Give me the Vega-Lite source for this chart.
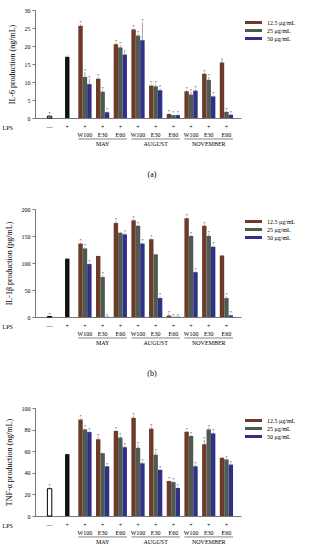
{
  "$schema": "https://vega.github.io/schema/vega-lite/v6.json",
  "padding": {"left": 2, "top": 7, "right": 0, "bottom": 0},
  "background": "white",
  "config": {
    "font": "Liberation Serif",
    "view": {"stroke": null},
    "axis": {"labelFont": "Liberation Serif", "titleFont": "Liberation Serif", "labelFontSize": 6, "titleFontSize": 8, "titleFontWeight": "normal", "domainColor": "#777", "domainWidth": 1, "tickColor": "#777", "grid": false, "labelColor": "#000", "titleColor": "#000"},
    "axisX": {"title": "LPS", "titleX": -33, "titleY": 9, "titleAlign": "left", "titleBaseline": "middle", "titleFontSize": 6, "labelAngle": 0, "ticks": false, "tickSize": 0, "labelPadding": 5, "labelBaseline": "top", "labelLineHeight": 8.5, "labelOverlap": false, "domain": true,
      "labelExpr": "datum.value === 'ctrl' ? '—' : datum.value === 'LPS' ? '+' : (split(datum.value, ' ')[1] === 'E30' ? ['+', 'E30', split(datum.value, ' ')[0]] : ['+', split(datum.value, ' ')[1]])"},
    "axisY": {"tickSize": 3, "labelPadding": 2, "titlePadding": 8, "labelOverlap": false},
    "legend": {"orient": "none", "legendX": 214, "legendY": 8, "symbolType": "M-2,-0.36L2,-0.36L2,0.36L-2,0.36Z", "symbolSize": 72, "symbolStrokeWidth": 0, "labelFont": "Liberation Serif", "labelFontSize": 6, "labelColor": "#000", "rowPadding": -2, "labelOffset": 9, "title": null},
    "title": {"font": "Liberation Serif", "fontSize": 8, "fontWeight": "normal", "color": "#000"}
  },
  "datasets": {
    "bars": [
      {"panel": "a", "group": "ctrl", "off": "25", "series": "ctrl", "value": 0.5, "hi": 0.8, "star": "*"},
      {"panel": "a", "group": "LPS", "off": "25", "series": "LPS", "value": 17.0, "hi": 17.4, "star": ""},
      {"panel": "a", "group": "MAY W100", "off": "12.5", "series": "12.5 μg/mL", "value": 25.6, "hi": 26.0, "star": "*"},
      {"panel": "a", "group": "MAY W100", "off": "25", "series": "25 μg/mL", "value": 11.4, "hi": 12.7, "star": "*"},
      {"panel": "a", "group": "MAY W100", "off": "50", "series": "50 μg/mL", "value": 9.4, "hi": 10.9, "star": "*"},
      {"panel": "a", "group": "MAY E30", "off": "12.5", "series": "12.5 μg/mL", "value": 10.9, "hi": 11.3, "star": "*"},
      {"panel": "a", "group": "MAY E30", "off": "25", "series": "25 μg/mL", "value": 7.3, "hi": 7.8, "star": "*"},
      {"panel": "a", "group": "MAY E30", "off": "50", "series": "50 μg/mL", "value": 1.6, "hi": 1.9, "star": "*"},
      {"panel": "a", "group": "MAY E60", "off": "12.5", "series": "12.5 μg/mL", "value": 20.5, "hi": 20.9, "star": "*"},
      {"panel": "a", "group": "MAY E60", "off": "25", "series": "25 μg/mL", "value": 19.6, "hi": 20.2, "star": "*"},
      {"panel": "a", "group": "MAY E60", "off": "50", "series": "50 μg/mL", "value": 17.6, "hi": 19.1, "star": ""},
      {"panel": "a", "group": "AUGUST W100", "off": "12.5", "series": "12.5 μg/mL", "value": 24.6, "hi": 24.9, "star": "*"},
      {"panel": "a", "group": "AUGUST W100", "off": "25", "series": "25 μg/mL", "value": 22.9, "hi": 23.4, "star": "*"},
      {"panel": "a", "group": "AUGUST W100", "off": "50", "series": "50 μg/mL", "value": 21.6, "hi": 26.6, "star": "*"},
      {"panel": "a", "group": "AUGUST E30", "off": "12.5", "series": "12.5 μg/mL", "value": 9.0, "hi": 9.4, "star": "*"},
      {"panel": "a", "group": "AUGUST E30", "off": "25", "series": "25 μg/mL", "value": 8.8, "hi": 9.4, "star": "*"},
      {"panel": "a", "group": "AUGUST E30", "off": "50", "series": "50 μg/mL", "value": 7.7, "hi": 8.2, "star": "*"},
      {"panel": "a", "group": "AUGUST E60", "off": "12.5", "series": "12.5 μg/mL", "value": 1.1, "hi": 1.3, "star": "*"},
      {"panel": "a", "group": "AUGUST E60", "off": "25", "series": "25 μg/mL", "value": 0.8, "hi": 1.0, "star": "*"},
      {"panel": "a", "group": "AUGUST E60", "off": "50", "series": "50 μg/mL", "value": 0.8, "hi": 1.0, "star": "*"},
      {"panel": "a", "group": "NOVEMBER W100", "off": "12.5", "series": "12.5 μg/mL", "value": 7.4, "hi": 7.8, "star": "*"},
      {"panel": "a", "group": "NOVEMBER W100", "off": "25", "series": "25 μg/mL", "value": 6.5, "hi": 7.3, "star": "*"},
      {"panel": "a", "group": "NOVEMBER W100", "off": "50", "series": "50 μg/mL", "value": 7.6, "hi": 8.0, "star": "*"},
      {"panel": "a", "group": "NOVEMBER E30", "off": "12.5", "series": "12.5 μg/mL", "value": 12.3, "hi": 12.6, "star": "*"},
      {"panel": "a", "group": "NOVEMBER E30", "off": "25", "series": "25 μg/mL", "value": 10.6, "hi": 11.4, "star": "*"},
      {"panel": "a", "group": "NOVEMBER E30", "off": "50", "series": "50 μg/mL", "value": 6.0, "hi": 6.3, "star": "*"},
      {"panel": "a", "group": "NOVEMBER E60", "off": "12.5", "series": "12.5 μg/mL", "value": 15.4, "hi": 16.7, "star": ""},
      {"panel": "a", "group": "NOVEMBER E60", "off": "25", "series": "25 μg/mL", "value": 1.7, "hi": 2.0, "star": "*"},
      {"panel": "a", "group": "NOVEMBER E60", "off": "50", "series": "50 μg/mL", "value": 0.9, "hi": 1.2, "star": "*"},

      {"panel": "b", "group": "ctrl", "off": "25", "series": "ctrl", "value": 1, "hi": 1, "star": "*"},
      {"panel": "b", "group": "LPS", "off": "25", "series": "LPS", "value": 108, "hi": 109.5, "star": ""},
      {"panel": "b", "group": "MAY W100", "off": "12.5", "series": "12.5 μg/mL", "value": 136, "hi": 138, "star": "*"},
      {"panel": "b", "group": "MAY W100", "off": "25", "series": "25 μg/mL", "value": 127, "hi": 129, "star": "*"},
      {"panel": "b", "group": "MAY W100", "off": "50", "series": "50 μg/mL", "value": 98, "hi": 100, "star": "*"},
      {"panel": "b", "group": "MAY E30", "off": "12.5", "series": "12.5 μg/mL", "value": 113, "hi": 114, "star": ""},
      {"panel": "b", "group": "MAY E30", "off": "25", "series": "25 μg/mL", "value": 74, "hi": 77, "star": "*"},
      {"panel": "b", "group": "MAY E30", "off": "50", "series": "50 μg/mL", "value": 0.5, "hi": 0.5, "star": "*"},
      {"panel": "b", "group": "MAY E60", "off": "12.5", "series": "12.5 μg/mL", "value": 174, "hi": 178, "star": "*"},
      {"panel": "b", "group": "MAY E60", "off": "25", "series": "25 μg/mL", "value": 156, "hi": 158, "star": ""},
      {"panel": "b", "group": "MAY E60", "off": "50", "series": "50 μg/mL", "value": 153, "hi": 156, "star": "*"},
      {"panel": "b", "group": "AUGUST W100", "off": "12.5", "series": "12.5 μg/mL", "value": 179, "hi": 182, "star": "*"},
      {"panel": "b", "group": "AUGUST W100", "off": "25", "series": "25 μg/mL", "value": 169, "hi": 171, "star": "*"},
      {"panel": "b", "group": "AUGUST W100", "off": "50", "series": "50 μg/mL", "value": 136, "hi": 138, "star": "*"},
      {"panel": "b", "group": "AUGUST E30", "off": "12.5", "series": "12.5 μg/mL", "value": 144, "hi": 146, "star": "*"},
      {"panel": "b", "group": "AUGUST E30", "off": "25", "series": "25 μg/mL", "value": 116, "hi": 117, "star": ""},
      {"panel": "b", "group": "AUGUST E30", "off": "50", "series": "50 μg/mL", "value": 35, "hi": 38, "star": "*"},
      {"panel": "b", "group": "AUGUST E60", "off": "12.5", "series": "12.5 μg/mL", "value": 3, "hi": 6, "star": "*"},
      {"panel": "b", "group": "AUGUST E60", "off": "25", "series": "25 μg/mL", "value": 0.5, "hi": 0.5, "star": "*"},
      {"panel": "b", "group": "AUGUST E60", "off": "50", "series": "50 μg/mL", "value": 0.5, "hi": 0.5, "star": "*"},
      {"panel": "b", "group": "NOVEMBER W100", "off": "12.5", "series": "12.5 μg/mL", "value": 183, "hi": 185, "star": "*"},
      {"panel": "b", "group": "NOVEMBER W100", "off": "25", "series": "25 μg/mL", "value": 150, "hi": 152, "star": "*"},
      {"panel": "b", "group": "NOVEMBER W100", "off": "50", "series": "50 μg/mL", "value": 83, "hi": 85, "star": "*"},
      {"panel": "b", "group": "NOVEMBER E30", "off": "12.5", "series": "12.5 μg/mL", "value": 169, "hi": 171, "star": "*"},
      {"panel": "b", "group": "NOVEMBER E30", "off": "25", "series": "25 μg/mL", "value": 150, "hi": 154, "star": "*"},
      {"panel": "b", "group": "NOVEMBER E30", "off": "50", "series": "50 μg/mL", "value": 130, "hi": 133, "star": "*"},
      {"panel": "b", "group": "NOVEMBER E60", "off": "12.5", "series": "12.5 μg/mL", "value": 114, "hi": 115, "star": ""},
      {"panel": "b", "group": "NOVEMBER E60", "off": "25", "series": "25 μg/mL", "value": 35, "hi": 38, "star": "*"},
      {"panel": "b", "group": "NOVEMBER E60", "off": "50", "series": "50 μg/mL", "value": 3, "hi": 5, "star": "*"},

      {"panel": "c", "group": "ctrl", "off": "25", "series": "ctrl", "value": 25.3, "hi": 26.8, "star": "*"},
      {"panel": "c", "group": "LPS", "off": "25", "series": "LPS", "value": 57.3, "hi": 57.8, "star": ""},
      {"panel": "c", "group": "MAY W100", "off": "12.5", "series": "12.5 μg/mL", "value": 89.3, "hi": 90.5, "star": "*"},
      {"panel": "c", "group": "MAY W100", "off": "25", "series": "25 μg/mL", "value": 80.2, "hi": 81.2, "star": "*"},
      {"panel": "c", "group": "MAY W100", "off": "50", "series": "50 μg/mL", "value": 77.7, "hi": 78.7, "star": "*"},
      {"panel": "c", "group": "MAY E30", "off": "12.5", "series": "12.5 μg/mL", "value": 71.0, "hi": 73.5, "star": "*"},
      {"panel": "c", "group": "MAY E30", "off": "25", "series": "25 μg/mL", "value": 58.2, "hi": 58.7, "star": ""},
      {"panel": "c", "group": "MAY E30", "off": "50", "series": "50 μg/mL", "value": 46.0, "hi": 46.7, "star": "*"},
      {"panel": "c", "group": "MAY E60", "off": "12.5", "series": "12.5 μg/mL", "value": 78.7, "hi": 79.7, "star": "*"},
      {"panel": "c", "group": "MAY E60", "off": "25", "series": "25 μg/mL", "value": 72.6, "hi": 74.1, "star": "*"},
      {"panel": "c", "group": "MAY E60", "off": "50", "series": "50 μg/mL", "value": 63.7, "hi": 65.2, "star": "*"},
      {"panel": "c", "group": "AUGUST W100", "off": "12.5", "series": "12.5 μg/mL", "value": 90.9, "hi": 92.9, "star": "*"},
      {"panel": "c", "group": "AUGUST W100", "off": "25", "series": "25 μg/mL", "value": 63.1, "hi": 66.1, "star": "*"},
      {"panel": "c", "group": "AUGUST W100", "off": "50", "series": "50 μg/mL", "value": 48.8, "hi": 50.3, "star": "*"},
      {"panel": "c", "group": "AUGUST E30", "off": "12.5", "series": "12.5 μg/mL", "value": 80.8, "hi": 82.8, "star": "*"},
      {"panel": "c", "group": "AUGUST E30", "off": "25", "series": "25 μg/mL", "value": 56.7, "hi": 59.2, "star": "*"},
      {"panel": "c", "group": "AUGUST E30", "off": "50", "series": "50 μg/mL", "value": 42.7, "hi": 43.7, "star": "*"},
      {"panel": "c", "group": "AUGUST E60", "off": "12.5", "series": "12.5 μg/mL", "value": 32.3, "hi": 32.9, "star": "*"},
      {"panel": "c", "group": "AUGUST E60", "off": "25", "series": "25 μg/mL", "value": 31.4, "hi": 32.2, "star": "*"},
      {"panel": "c", "group": "AUGUST E60", "off": "50", "series": "50 μg/mL", "value": 25.9, "hi": 26.9, "star": "*"},
      {"panel": "c", "group": "NOVEMBER W100", "off": "12.5", "series": "12.5 μg/mL", "value": 78.0, "hi": 78.7, "star": "*"},
      {"panel": "c", "group": "NOVEMBER W100", "off": "25", "series": "25 μg/mL", "value": 74.1, "hi": 75.1, "star": "*"},
      {"panel": "c", "group": "NOVEMBER W100", "off": "50", "series": "50 μg/mL", "value": 46.0, "hi": 47.5, "star": "*"},
      {"panel": "c", "group": "NOVEMBER E30", "off": "12.5", "series": "12.5 μg/mL", "value": 66.5, "hi": 70.5, "star": "*"},
      {"panel": "c", "group": "NOVEMBER E30", "off": "25", "series": "25 μg/mL", "value": 80.2, "hi": 81.7, "star": "*"},
      {"panel": "c", "group": "NOVEMBER E30", "off": "50", "series": "50 μg/mL", "value": 76.5, "hi": 78.0, "star": "*"},
      {"panel": "c", "group": "NOVEMBER E60", "off": "12.5", "series": "12.5 μg/mL", "value": 54.0, "hi": 54.5, "star": ""},
      {"panel": "c", "group": "NOVEMBER E60", "off": "25", "series": "25 μg/mL", "value": 52.4, "hi": 53.2, "star": "*"},
      {"panel": "c", "group": "NOVEMBER E60", "off": "50", "series": "50 μg/mL", "value": 47.6, "hi": 48.6, "star": "*"}
    ],
    "months": [
      {"group": "MAY W100", "to": "MAY E60", "month": "MAY"},
      {"group": "AUGUST W100", "to": "AUGUST E60", "month": "AUGUST"},
      {"group": "NOVEMBER W100", "to": "NOVEMBER E60", "month": "NOVEMBER"}
    ]
  },
  "vconcat": [
    {
      "width": 206, "height": 108,
      "title": {"text": "(a)", "orient": "bottom", "offset": 25, "dx": 14},
      "layer": [
        {
          "data": {"name": "bars"},
          "transform": [{"filter": "datum.panel === 'a'"}],
          "mark": {"type": "bar"},
          "encoding": {
            "x": {"field": "group", "type": "nominal", "sort": null, "title": "LPS",
              "scale": {"domain": ["ctrl","LPS","MAY W100","MAY E30","MAY E60","AUGUST W100","AUGUST E30","AUGUST E60","NOVEMBER W100","NOVEMBER E30","NOVEMBER E60"], "paddingInner": 0.25, "paddingOuter": 0.45}},
            "xOffset": {"field": "off", "type": "nominal", "scale": {"domain": ["12.5","25","50"], "paddingInner": 0, "paddingOuter": 0}},
            "y": {"field": "value", "type": "quantitative", "title": "IL-6 production (ng/mL)", "scale": {"domain": [0, 30], "nice": false}, "axis": {"values": [0,5,10,15,20,25,30]}},
            "color": {"field": "series", "type": "nominal",
              "scale": {"domain": ["12.5 μg/mL","25 μg/mL","50 μg/mL","ctrl","LPS"], "range": ["#6e3b2a","#4e5c50","#2e3187","#ffffff","#111111"]},
              "legend": {"values": ["12.5 μg/mL","25 μg/mL","50 μg/mL"]}},
            "stroke": {"condition": {"test": "datum.series === 'ctrl'", "value": "#000"}, "value": null}
          }
        },
        {
          "data": {"name": "bars"},
          "transform": [{"filter": "datum.panel === 'a'"}],
          "mark": {"type": "rule", "color": "#666", "strokeWidth": 0.6},
          "encoding": {
            "x": {"field": "group", "type": "nominal", "sort": null, "title": "LPS"},
            "xOffset": {"field": "off", "type": "nominal"},
            "y": {"field": "value", "type": "quantitative", "title": "IL-6 production (ng/mL)", "axis": {"values": [0,5,10,15,20,25,30]}},
            "y2": {"field": "hi"}
          }
        },
        {
          "data": {"name": "bars"},
          "transform": [{"filter": "datum.panel === 'a'"}],
          "mark": {"type": "text", "fontSize": 5, "baseline": "bottom", "dy": 1, "color": "#333"},
          "encoding": {
            "x": {"field": "group", "type": "nominal", "sort": null, "title": "LPS"},
            "xOffset": {"field": "off", "type": "nominal"},
            "y": {"field": "hi", "type": "quantitative", "title": "IL-6 production (ng/mL)", "axis": {"values": [0,5,10,15,20,25,30]}},
            "text": {"field": "star"}
          }
        },
        {
          "data": {"name": "months"},
          "mark": {"type": "rule", "color": "#333", "strokeWidth": 0.6, "clip": false},
          "encoding": {
            "x": {"field": "group", "type": "nominal", "sort": null, "bandPosition": 0, "title": "LPS"},
            "x2": {"field": "to", "bandPosition": 1},
            "y": {"datum": -5.83, "type": "quantitative", "title": "IL-6 production (ng/mL)", "axis": {"values": [0,5,10,15,20,25,30]}}
          }
        }
      ]
    },
    {
      "width": 206, "height": 108,
      "title": {"text": "(b)", "orient": "bottom", "offset": 25, "dx": 14},
      "layer": [
        {
          "data": {"name": "bars"},
          "transform": [{"filter": "datum.panel === 'b'"}],
          "mark": {"type": "bar"},
          "encoding": {
            "x": {"field": "group", "type": "nominal", "sort": null, "title": "LPS",
              "scale": {"domain": ["ctrl","LPS","MAY W100","MAY E30","MAY E60","AUGUST W100","AUGUST E30","AUGUST E60","NOVEMBER W100","NOVEMBER E30","NOVEMBER E60"], "paddingInner": 0.25, "paddingOuter": 0.45}},
            "xOffset": {"field": "off", "type": "nominal", "scale": {"domain": ["12.5","25","50"], "paddingInner": 0, "paddingOuter": 0}},
            "y": {"field": "value", "type": "quantitative", "title": "IL-1β production (pg/mL)", "scale": {"domain": [0, 200], "nice": false}, "axis": {"values": [0,50,100,150,200]}},
            "color": {"field": "series", "type": "nominal",
              "scale": {"domain": ["12.5 μg/mL","25 μg/mL","50 μg/mL","ctrl","LPS"], "range": ["#6e3b2a","#4e5c50","#2e3187","#ffffff","#111111"]},
              "legend": {"values": ["12.5 μg/mL","25 μg/mL","50 μg/mL"]}},
            "stroke": {"condition": {"test": "datum.series === 'ctrl'", "value": "#000"}, "value": null}
          }
        },
        {
          "data": {"name": "bars"},
          "transform": [{"filter": "datum.panel === 'b'"}],
          "mark": {"type": "rule", "color": "#666", "strokeWidth": 0.6},
          "encoding": {
            "x": {"field": "group", "type": "nominal", "sort": null, "title": "LPS"},
            "xOffset": {"field": "off", "type": "nominal"},
            "y": {"field": "value", "type": "quantitative", "title": "IL-1β production (pg/mL)", "axis": {"values": [0,50,100,150,200]}},
            "y2": {"field": "hi"}
          }
        },
        {
          "data": {"name": "bars"},
          "transform": [{"filter": "datum.panel === 'b'"}],
          "mark": {"type": "text", "fontSize": 5, "baseline": "bottom", "dy": 1, "color": "#333"},
          "encoding": {
            "x": {"field": "group", "type": "nominal", "sort": null, "title": "LPS"},
            "xOffset": {"field": "off", "type": "nominal"},
            "y": {"field": "hi", "type": "quantitative", "title": "IL-1β production (pg/mL)", "axis": {"values": [0,50,100,150,200]}},
            "text": {"field": "star"}
          }
        },
        {
          "data": {"name": "months"},
          "mark": {"type": "rule", "color": "#333", "strokeWidth": 0.6, "clip": false},
          "encoding": {
            "x": {"field": "group", "type": "nominal", "sort": null, "bandPosition": 0, "title": "LPS"},
            "x2": {"field": "to", "bandPosition": 1},
            "y": {"datum": -38.9, "type": "quantitative", "title": "IL-1β production (pg/mL)", "axis": {"values": [0,50,100,150,200]}}
          }
        }
      ]
    },
    {
      "width": 206, "height": 108,
      "layer": [
        {
          "data": {"name": "bars"},
          "transform": [{"filter": "datum.panel === 'c'"}],
          "mark": {"type": "bar"},
          "encoding": {
            "x": {"field": "group", "type": "nominal", "sort": null, "title": "LPS",
              "scale": {"domain": ["ctrl","LPS","MAY W100","MAY E30","MAY E60","AUGUST W100","AUGUST E30","AUGUST E60","NOVEMBER W100","NOVEMBER E30","NOVEMBER E60"], "paddingInner": 0.25, "paddingOuter": 0.45}},
            "xOffset": {"field": "off", "type": "nominal", "scale": {"domain": ["12.5","25","50"], "paddingInner": 0, "paddingOuter": 0}},
            "y": {"field": "value", "type": "quantitative", "title": "TNF-α production (ng/mL)", "scale": {"domain": [0, 100], "nice": false}, "axis": {"values": [0,20,40,60,80,100]}},
            "color": {"field": "series", "type": "nominal",
              "scale": {"domain": ["12.5 μg/mL","25 μg/mL","50 μg/mL","ctrl","LPS"], "range": ["#6e3b2a","#4e5c50","#2e3187","#ffffff","#111111"]},
              "legend": {"values": ["12.5 μg/mL","25 μg/mL","50 μg/mL"]}},
            "stroke": {"condition": {"test": "datum.series === 'ctrl'", "value": "#000"}, "value": null}
          }
        },
        {
          "data": {"name": "bars"},
          "transform": [{"filter": "datum.panel === 'c'"}],
          "mark": {"type": "rule", "color": "#666", "strokeWidth": 0.6},
          "encoding": {
            "x": {"field": "group", "type": "nominal", "sort": null, "title": "LPS"},
            "xOffset": {"field": "off", "type": "nominal"},
            "y": {"field": "value", "type": "quantitative", "title": "TNF-α production (ng/mL)", "axis": {"values": [0,20,40,60,80,100]}},
            "y2": {"field": "hi"}
          }
        },
        {
          "data": {"name": "bars"},
          "transform": [{"filter": "datum.panel === 'c'"}],
          "mark": {"type": "text", "fontSize": 5, "baseline": "bottom", "dy": 1, "color": "#333"},
          "encoding": {
            "x": {"field": "group", "type": "nominal", "sort": null, "title": "LPS"},
            "xOffset": {"field": "off", "type": "nominal"},
            "y": {"field": "hi", "type": "quantitative", "title": "TNF-α production (ng/mL)", "axis": {"values": [0,20,40,60,80,100]}},
            "text": {"field": "star"}
          }
        },
        {
          "data": {"name": "months"},
          "mark": {"type": "rule", "color": "#333", "strokeWidth": 0.6, "clip": false},
          "encoding": {
            "x": {"field": "group", "type": "nominal", "sort": null, "bandPosition": 0, "title": "LPS"},
            "x2": {"field": "to", "bandPosition": 1},
            "y": {"datum": -19.4, "type": "quantitative", "title": "TNF-α production (ng/mL)", "axis": {"values": [0,20,40,60,80,100]}}
          }
        }
      ]
    }
  ],
  "spacing": 27,
  "resolve": {"scale": {"color": "independent"}, "legend": {"color": "independent"}}
}
